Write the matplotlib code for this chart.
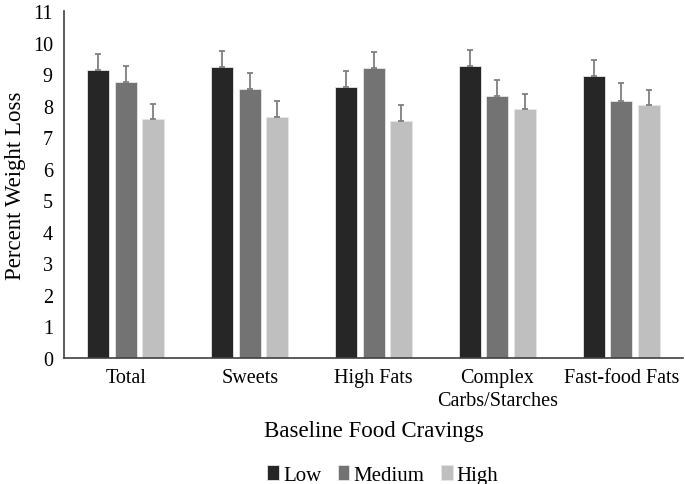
import matplotlib
matplotlib.use("Agg")
import matplotlib.pyplot as plt
import numpy as np

plt.rcParams['font.family'] = ['Liberation Serif', 'DejaVu Serif']

categories = ["Total", "Sweets", "High Fats", "Complex\nCarbs/Starches", "Fast-food Fats"]
low = [9.12, 9.22, 8.59, 9.25, 8.94]
medium = [8.75, 8.52, 9.19, 8.30, 8.15]
high = [7.57, 7.64, 7.51, 7.89, 8.02]
low_err = [0.52, 0.51, 0.51, 0.51, 0.50]
medium_err = [0.50, 0.51, 0.51, 0.53, 0.58]
high_err = [0.49, 0.51, 0.50, 0.48, 0.48]
series_names = ["Low", "Medium", "High"]
colors = ["#262626", "#737373", "#bfbfbf"]

fig = plt.figure(figsize=(6.85, 4.85), dpi=100)
ax = fig.add_axes([0.0934, 0.26, 0.904, 0.715])

x = np.arange(len(categories))
w = 0.177
step = 0.222
for i, (vals, errs) in enumerate(zip([low, medium, high], [low_err, medium_err, high_err])):
    ax.bar(x + (i - 1) * step, vals, width=w, color=colors[i], edgecolor="#e6e6e6",
           linewidth=0.6, label=series_names[i],
           yerr=[[0] * len(errs), errs], ecolor="#7f7f7f",
           error_kw=dict(elinewidth=1.3, capsize=2.5, capthick=1.3))

ax.set_xlim(-0.5, len(categories) - 0.5)
ax.set_ylim(0, 11)
ax.set_yticks(range(0, 12))
ax.set_xticks(x)
ax.set_xticklabels(categories, fontsize=14.5, linespacing=1.3)
ax.tick_params(axis='y', labelsize=14.5, length=0, pad=8)
ax.tick_params(axis='x', length=0, pad=7)
for s in ["top", "right"]:
    ax.spines[s].set_visible(False)
for s in ["left", "bottom"]:
    ax.spines[s].set_color("#404040")
    ax.spines[s].set_linewidth(1.2)

ax.set_ylabel("Percent Weight Loss", fontsize=16.5, labelpad=5)
ax.set_xlabel("Baseline Food Cravings", fontsize=16.5, labelpad=7)

ax.legend(loc="center", bbox_to_anchor=(0.515, -0.337), ncol=3, frameon=False,
          prop={'family': ['Liberation Serif', 'DejaVu Serif'], 'size': 15},
          handlelength=0.55, handleheight=0.7, handletextpad=0.2,
          columnspacing=0.8)

fig.savefig("out.png", dpi=100)
